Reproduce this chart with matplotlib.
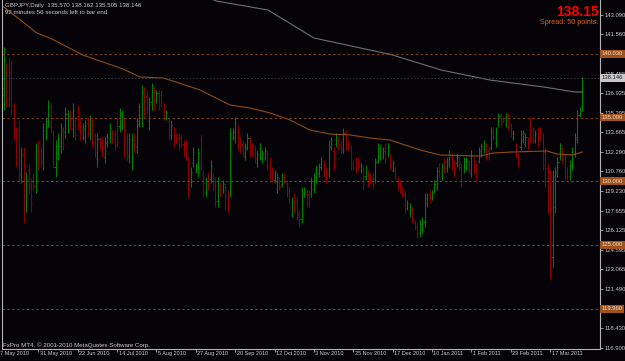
import matplotlib
matplotlib.use("Agg")
import matplotlib.pyplot as plt
import matplotlib.transforms as mtransforms

# GBPJPY daily bars, 7 May 2010 .. early Apr 2011
opens = [136.0, 134.2, 136.8, 138.6, 138.9, 138.6, 135.6, 133.8, 134.0, 130.5,
         132.1, 128.2, 130.9, 129.6, 130.3, 129.6, 132.6, 132.3, 131.5, 133.7,
         134.7, 135.8, 133.6, 131.1, 132.2, 132.8, 133.9, 133.9, 134.4, 135.2,
         134.1, 134.7, 135.5, 134.4, 133.5, 133.5, 134.6, 133.7, 134.5, 133.3,
         131.7, 133.2, 133.1, 131.9, 133.0, 133.3, 133.8, 133.7, 134.5, 134.3,
         134.4, 134.6, 133.3, 132.0, 131.6, 133.4, 132.7, 134.7, 135.0, 136.9,
         136.7, 134.7, 136.2, 137.0, 136.4, 136.8, 136.8, 135.9, 135.0, 134.7,
         133.6, 133.9, 133.5, 133.4, 133.4, 132.9, 132.9, 131.5, 129.9, 131.4,
         130.8, 130.7, 133.2, 130.5, 129.1, 130.4, 130.2, 130.3, 130.0, 128.4,
         129.6, 129.3, 129.5, 128.9, 129.1, 133.4, 133.5, 134.0, 133.2, 132.9,
         132.0, 132.8, 133.1, 132.7, 132.5, 131.4, 132.0, 131.7, 131.9, 132.1,
         131.5, 130.8, 130.1, 129.4, 130.0, 129.8, 130.3, 129.8, 129.2, 127.5,
         128.7, 128.4, 127.4, 127.0, 128.9, 129.0, 129.0, 129.0, 129.4, 130.1,
         130.6, 131.1, 131.4, 130.8, 130.6, 132.7, 132.4, 132.9, 133.2, 132.9,
         132.5, 133.7, 133.0, 132.5, 131.4, 131.6, 131.6, 130.9, 130.8, 130.4,
         130.6, 130.4, 130.3, 130.2, 131.7, 132.0, 131.9, 132.6, 132.1, 131.9,
         130.9, 130.8, 130.0, 129.8, 129.3, 129.0, 127.9, 127.5, 127.7, 126.7,
         126.4, 125.9, 126.2, 126.8, 128.3, 129.0, 128.7, 129.3, 129.6, 131.1,
         130.4, 131.6, 131.0, 131.4, 131.9, 131.4, 131.4, 131.6, 131.1, 130.9,
         131.1, 131.4, 130.6, 131.7, 131.1, 131.6, 132.2, 132.5, 132.8, 132.4,
         132.7, 134.0, 133.0, 134.5, 135.1, 134.9, 134.5, 135.2, 134.4, 133.4,
         132.8, 132.0, 132.7, 133.2, 132.9, 133.3, 134.6, 134.0, 133.2, 134.0,
         134.0, 133.5, 132.3, 131.0, 128.5, 124.0, 128.0, 130.6, 131.9, 132.4,
         131.9, 130.8, 130.4, 131.2, 132.2, 133.3, 135.2, 135.570]
highs = [139.0, 138.19, 140.55, 139.29, 139.76, 139.53, 136.15, 134.26, 134.81, 132.68,
         132.68, 130.71, 131.42, 130.24, 130.63, 132.99, 133.23, 132.68, 134.57, 135.04,
         136.38, 136.14, 134.02, 133.23, 133.78, 134.57, 134.26, 135.83, 135.59, 135.59,
         136.14, 135.04, 135.99, 134.81, 134.57, 134.81, 135.04, 135.20, 134.96, 133.78,
         133.78, 133.47, 133.47, 133.47, 133.78, 134.57, 134.02, 134.02, 135.04, 135.75,
         135.59, 135.04, 133.78, 133.78, 133.78, 133.78, 134.96, 136.14, 137.56, 137.40,
         137.17, 136.62, 137.72, 137.40, 137.17, 137.17, 137.17, 136.14, 135.59, 135.04,
         134.81, 134.26, 133.78, 133.78, 133.62, 133.23, 133.23, 131.90, 131.11, 132.68,
         131.42, 132.60, 133.62, 130.87, 130.32, 130.71, 131.66, 130.63, 130.32, 130.32,
         129.85, 130.08, 129.85, 129.30, 134.18, 134.18, 135.04, 134.41, 133.47, 133.23,
         132.99, 133.78, 133.47, 132.99, 132.84, 132.45, 132.99, 132.45, 132.68, 132.45,
         131.90, 131.11, 130.87, 130.63, 130.32, 130.63, 130.63, 130.08, 129.54, 128.75,
         129.06, 128.75, 127.72, 129.54, 129.54, 129.30, 129.30, 130.32, 130.63, 131.27,
         131.42, 131.90, 131.66, 131.11, 133.23, 133.47, 132.68, 133.78, 133.47, 133.23,
         134.18, 134.02, 133.23, 132.84, 131.66, 131.90, 131.90, 131.42, 131.11, 131.27,
         130.87, 130.63, 130.63, 131.82, 132.99, 132.84, 132.70, 132.99, 132.99, 132.21,
         131.66, 131.11, 130.32, 130.08, 129.54, 129.30, 128.51, 128.28, 127.96, 126.94,
         126.70, 126.94, 127.17, 129.06, 129.06, 129.30, 129.30, 130.08, 131.11, 131.42,
         131.42, 131.90, 131.90, 132.45, 132.21, 131.66, 132.21, 131.90, 131.42, 131.90,
         131.90, 131.66, 132.45, 131.90, 131.42, 132.68, 132.99, 133.23, 132.99, 132.68,
         134.26, 134.26, 134.26, 135.36, 135.36, 135.04, 135.36, 135.36, 134.57, 134.02,
         132.99, 132.21, 134.02, 134.02, 133.78, 133.47, 135.04, 134.26, 134.02, 134.26,
         134.26, 133.78, 132.68, 131.42, 130.87, 130.87, 131.11, 131.90, 132.99, 132.68,
         132.21, 131.11, 131.66, 132.68, 133.78, 135.59, 135.83, 138.162]
lows = [135.6, 132.99, 135.59, 135.83, 135.83, 135.20, 133.23, 131.11, 129.85, 129.85,
        126.70, 127.57, 129.06, 127.57, 129.30, 129.06, 130.87, 131.11, 130.87, 133.23,
        134.26, 133.78, 131.11, 130.32, 131.66, 132.21, 132.45, 133.39, 133.78, 134.02,
        133.47, 133.23, 134.02, 133.23, 133.23, 132.99, 133.47, 133.23, 132.68, 131.90,
        131.11, 132.45, 131.90, 131.42, 132.68, 132.99, 132.99, 132.45, 132.68, 133.86,
        134.02, 131.90, 131.66, 131.42, 130.87, 132.21, 132.21, 134.26, 134.26, 135.04,
        135.36, 134.02, 135.59, 135.59, 136.14, 135.59, 135.83, 134.81, 134.81, 133.23,
        133.23, 132.68, 132.99, 132.45, 132.68, 131.90, 131.66, 128.75, 129.54, 131.11,
        130.63, 130.32, 130.87, 128.75, 128.75, 129.30, 129.85, 129.30, 127.96, 127.96,
        128.75, 129.06, 127.72, 127.57, 128.75, 133.23, 132.99, 132.45, 132.21, 131.90,
        131.66, 132.45, 131.90, 131.90, 131.42, 131.11, 131.66, 131.42, 131.66, 130.87,
        130.08, 129.93, 129.85, 129.06, 129.30, 129.54, 129.85, 128.75, 128.28, 127.17,
        127.49, 126.94, 126.39, 126.70, 128.75, 127.96, 127.96, 128.75, 129.06, 129.85,
        130.32, 130.87, 130.32, 129.85, 130.32, 132.45, 130.87, 132.68, 132.45, 132.21,
        132.21, 132.45, 132.45, 130.87, 130.87, 130.63, 130.87, 130.63, 129.30, 130.08,
        129.54, 129.85, 129.46, 129.85, 131.42, 131.66, 131.70, 131.42, 131.90, 130.87,
        130.71, 130.08, 129.30, 129.06, 128.75, 127.49, 127.72, 127.17, 126.70, 126.15,
        125.52, 125.60, 125.91, 126.39, 127.96, 128.28, 128.51, 129.06, 129.30, 130.32,
        130.08, 130.63, 130.71, 131.11, 130.87, 130.32, 131.11, 130.87, 129.54, 130.63,
        130.87, 130.63, 130.32, 130.63, 130.08, 131.42, 131.90, 132.21, 131.66, 131.66,
        132.45, 133.23, 132.68, 134.26, 134.26, 134.57, 134.26, 134.02, 133.47, 133.23,
        131.90, 131.11, 132.45, 132.99, 132.68, 132.45, 132.99, 132.99, 132.99, 132.68,
        133.23, 130.87, 129.54, 127.49, 122.29, 123.23, 127.49, 130.32, 131.66, 131.42,
        130.08, 130.08, 130.08, 130.87, 131.90, 133.00, 135.04, 135.505]
closes = [138.5, 137.3, 139.6, 136.4, 136.5, 135.9, 133.7, 131.7, 130.6, 132.0,
          127.8, 130.1, 129.5, 128.2, 129.6, 132.4, 131.4, 131.5, 134.0, 134.7,
          135.9, 134.3, 131.6, 132.7, 133.3, 134.1, 132.9, 135.3, 135.1, 134.4,
          135.6, 133.6, 134.4, 133.6, 134.2, 134.3, 133.8, 134.8, 133.1, 132.3,
          133.3, 132.8, 132.3, 133.0, 133.5, 134.2, 133.3, 132.8, 133.1, 135.3,
          135.2, 132.5, 132.1, 133.3, 133.2, 132.6, 134.5, 135.8, 137.0, 135.6,
          135.8, 136.1, 137.3, 136.0, 136.9, 136.0, 136.2, 135.1, 135.4, 133.6,
          134.4, 133.1, 133.2, 132.8, 132.9, 132.2, 132.0, 129.4, 130.7, 132.3,
          131.2, 132.2, 131.3, 129.2, 130.0, 129.6, 131.2, 129.6, 128.4, 129.9,
          129.0, 129.8, 128.2, 127.9, 133.7, 133.9, 134.6, 132.8, 132.5, 132.2,
          132.6, 133.4, 132.3, 132.2, 131.8, 132.1, 132.6, 132.1, 132.4, 131.2,
          130.5, 130.3, 130.6, 130.3, 129.6, 130.3, 130.0, 129.1, 128.6, 128.4,
          127.9, 127.3, 126.7, 129.1, 129.3, 128.3, 128.4, 130.0, 130.3, 130.9,
          131.1, 131.6, 130.6, 130.2, 132.8, 133.2, 131.3, 133.5, 132.7, 132.5,
          133.8, 132.8, 132.6, 131.3, 131.1, 131.0, 131.1, 131.2, 129.7, 131.0,
          129.9, 130.1, 129.8, 131.5, 132.6, 132.5, 132.4, 131.8, 132.7, 131.2,
          131.4, 130.4, 129.6, 129.3, 129.0, 127.9, 128.3, 128.0, 127.0, 126.4,
          125.8, 126.6, 126.9, 128.7, 128.8, 128.6, 129.1, 129.8, 130.8, 130.6,
          131.1, 130.9, 131.6, 132.1, 131.2, 130.6, 131.9, 131.1, 130.0, 131.6,
          131.6, 130.9, 132.0, 130.9, 130.4, 132.4, 132.8, 133.0, 132.0, 131.9,
          133.9, 133.5, 134.0, 135.1, 134.5, 134.7, 135.1, 134.3, 133.7, 133.8,
          132.2, 131.4, 133.7, 133.8, 133.5, 132.7, 133.3, 133.2, 133.8, 132.9,
          133.5, 131.3, 130.0, 128.0, 123.4, 130.3, 130.7, 131.5, 132.6, 131.7,
          130.4, 130.3, 131.3, 132.4, 133.5, 135.2, 135.6, 138.146]

# moving averages, sampled points (bar index, price)
ma_orange_x = [0, 5.1, 15.4, 21.5, 34.1, 50.4, 57.3, 66.7, 70.7, 81.7, 93.9, 102,
               110.2, 118.3, 126.4, 134.6, 142.7, 150.8, 159, 171.1, 179.3, 195.5,
               200.8, 208.9, 222.8, 226.8, 233.3, 237]
ma_orange_y = [144.0, 143.22, 141.65, 141.18, 139.92, 138.82, 138.19, 138.11, 137.87,
               137.17, 135.99, 135.75, 135.36, 134.81, 134.02, 133.70, 133.63, 133.39,
               133.23, 132.45, 132.05, 131.97, 132.21, 132.29, 132.37, 132.13, 132.05,
               132.29]
ma_grey_x = [83.7, 88.2, 109.3, 128, 150.8, 159.3, 179.7, 199.6, 221.5, 234.1, 237]
ma_grey_y = [144.56, 144.17, 143.46, 141.26, 140.31, 139.96, 138.74, 137.95, 137.40,
             137.01, 137.01]

# date labels every 16 bars
date_idx = [0, 16, 32, 48, 64, 80, 96, 112, 128, 144, 160, 176, 192, 208, 224]
date_labels = ["7 May 2010", "31 May 2010", "22 Jun 2010", "14 Jul 2010", "5 Aug 2010",
               "27 Aug 2010", "20 Sep 2010", "12 Oct 2010", "3 Nov 2010", "25 Nov 2010",
               "17 Dec 2010", "10 Jan 2011", "1 Feb 2011", "23 Feb 2011", "17 Mar 2011"]

price_ticks = [143.090, 141.560, 138.455, 136.925, 135.395, 133.865, 132.290, 130.760,
               129.230, 127.655, 126.125, 124.595, 123.065, 121.490, 118.430, 116.900]
levels = [140.030, 135.000, 130.000, 125.000, 119.960]
bid = 138.146

BG = "#050308"
FG = "#c8c8c8"
UP = "#008000"
DOWN = "#8b0000"
LEVEL = "#7f3f14"
BOX = "#a0521b"
FONT = "Liberation Sans"

fig = plt.figure(figsize=(6.25, 3.61), dpi=100, facecolor=BG)
ax = fig.add_axes([2 / 625, 12 / 361, 598 / 625, 349 / 361])
ax.set_facecolor(BG)

idx = list(range(len(closes)))
cols = [UP if c >= o else DOWN for o, c in zip(opens, closes)]
ax.vlines(idx, lows, highs, colors=cols, lw=0.75)
ax.hlines(opens, [i - 0.45 for i in idx], idx, colors=cols, lw=0.75)
ax.hlines(closes, idx, [i + 0.45 for i in idx], colors=cols, lw=0.75)

ax.plot(ma_grey_x, ma_grey_y, color="#6e6e6e", lw=0.8)
ax.plot(ma_orange_x, ma_orange_y, color="#8f4a18", lw=0.8)

for lv in levels:
    ax.axhline(lv, color=LEVEL, lw=0.7, ls=(0, (2.5, 2.5)))
ax.axhline(bid, color="#3c3c3c", lw=0.7, ls=(0, (1.5, 2)))

ax.set_xlim(1.22, 244.3)
ax.set_ylim(116.79, 144.247)

ax.spines["top"].set_visible(False)
for s in ["left", "right", "bottom"]:
    ax.spines[s].set_color("#b4b4b4")
    ax.spines[s].set_linewidth(0.8)

ax.yaxis.tick_right()
ax.set_yticks(price_ticks)
ax.set_yticklabels(["%.3f" % p for p in price_ticks], fontsize=4.2, family=FONT, color=FG)
ax.tick_params(axis="y", length=2, width=0.6, pad=1, colors="#b4b4b4", labelcolor=FG)

ax.set_xticks(date_idx[1:])
ax.set_xticklabels([])
ax.tick_params(axis="x", length=2, width=0.6, colors="#b4b4b4")
trans = mtransforms.blended_transform_factory(ax.transData, ax.transAxes)
for i, lab in zip(date_idx, date_labels):
    ax.text(i + 0.6, -0.006, lab, transform=trans, ha="left", va="top",
            fontsize=4.0, family=FONT, color=FG, clip_on=False)

ytrans = mtransforms.blended_transform_factory(ax.transAxes, ax.transData)
for lv in levels:
    ax.text(1.003, lv, "%.3f" % lv, transform=ytrans, ha="left", va="center",
            fontsize=4.2, family=FONT, color="#f0e0d0", clip_on=False,
            bbox=dict(boxstyle="square,pad=0.25", fc=BOX, ec="none"))
ax.text(1.003, bid, "%.3f" % bid, transform=ytrans, ha="left", va="center",
        fontsize=4.2, family=FONT, color="#202020", clip_on=False,
        bbox=dict(boxstyle="square,pad=0.25", fc="#c8c8c8", ec="none"))

fig.text(5 / 625, 1 - 6 / 361, "GBPJPY,Daily  135.570 138.162 135.505 138.146",
         fontsize=4.4, family=FONT, color=FG, va="center", ha="left")
fig.text(5 / 625, 1 - 13 / 361, "92 minutes 56 seconds left to bar end",
         fontsize=4.4, family=FONT, color=FG, va="center", ha="left")
fig.text(599 / 625, 1 - 12 / 361, "138.15", fontsize=10, family=FONT,
         weight="bold", color="#ff0000", va="center", ha="right")
fig.text(599 / 625, 1 - 22.5 / 361, "Spread: 50 points.", fontsize=5.2, family=FONT,
         color="#d8621e", va="center", ha="right")
fig.text(3 / 625, 1 - 345 / 361, "FxPro MT4, \u00a9 2001-2010 MetaQuotes Software Corp.",
         fontsize=4.4, family=FONT, color=FG, va="center", ha="left")

fig.savefig("out.png", dpi=100, facecolor=BG)
